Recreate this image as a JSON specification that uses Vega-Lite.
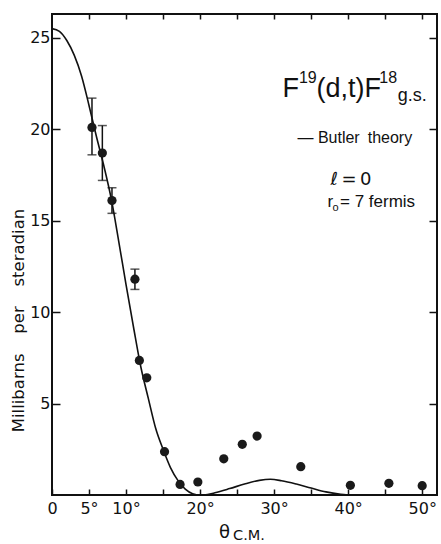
{
  "$schema": "https://vega.github.io/schema/vega-lite/v6.json",
  "width": 385,
  "height": 481,
  "autosize": {"type": "none"},
  "padding": {"left": 52, "top": 14, "right": 4, "bottom": 49},
  "background": "white",
  "config": {
    "view": {"stroke": "#111111", "strokeWidth": 2},
    "axis": {"grid": false, "domain": false, "tickColor": "#111111", "tickWidth": 1.5, "labelColor": "#111111", "titleColor": "#111111", "labelFlush": false, "labelOverlap": false}
  },
  "datasets": {
    "one": [{"k": 1}],
    "curve": [
      {"a": 0, "v": 25.5}, {"a": 1, "v": 25.35}, {"a": 2, "v": 24.85}, {"a": 3, "v": 24.05},
      {"a": 4, "v": 22.9}, {"a": 5, "v": 21.3}, {"a": 6, "v": 19.6}, {"a": 7, "v": 18.0},
      {"a": 8, "v": 16.2}, {"a": 9, "v": 13.9}, {"a": 10, "v": 11.5}, {"a": 11, "v": 9.2},
      {"a": 12, "v": 7.0}, {"a": 13, "v": 5.3}, {"a": 14, "v": 3.65}, {"a": 15, "v": 2.5},
      {"a": 16, "v": 1.5}, {"a": 17, "v": 0.8}, {"a": 18, "v": 0.32}, {"a": 19, "v": 0.07},
      {"a": 20, "v": 0}, {"a": 21, "v": 0.03}, {"a": 22, "v": 0.12}, {"a": 24, "v": 0.35},
      {"a": 26, "v": 0.6}, {"a": 28, "v": 0.8}, {"a": 29.5, "v": 0.86}, {"a": 31, "v": 0.78},
      {"a": 33, "v": 0.6}, {"a": 35, "v": 0.38}, {"a": 37, "v": 0.17}, {"a": 39, "v": 0.04},
      {"a": 40, "v": 0}
    ],
    "points": [
      {"a": 5.4, "v": 20.1}, {"a": 6.8, "v": 18.7}, {"a": 8.1, "v": 16.1}, {"a": 11.2, "v": 11.8},
      {"a": 11.8, "v": 7.36}, {"a": 12.8, "v": 6.41}, {"a": 15.2, "v": 2.37}, {"a": 17.3, "v": 0.58},
      {"a": 19.7, "v": 0.71}, {"a": 23.2, "v": 1.98}, {"a": 25.7, "v": 2.77}, {"a": 27.7, "v": 3.22},
      {"a": 33.6, "v": 1.55}, {"a": 40.3, "v": 0.53}, {"a": 45.5, "v": 0.64}, {"a": 50.0, "v": 0.51}
    ],
    "errors": [
      {"a": 5.4, "lo": 18.6, "hi": 21.7},
      {"a": 6.8, "lo": 17.2, "hi": 20.2},
      {"a": 8.1, "lo": 15.4, "hi": 16.8},
      {"a": 11.2, "lo": 11.24, "hi": 12.35}
    ]
  },
  "layer": [
    {
      "data": {"name": "curve"},
      "mark": {"type": "line", "color": "#111111", "strokeWidth": 1.6, "interpolate": "monotone"},
      "encoding": {
        "x": {"field": "a", "type": "quantitative", "scale": {"domain": [0, 52], "nice": false, "zero": false},
          "axis": {"orient": "bottom", "values": [0, 5, 10, 15, 20, 25, 30, 35, 40, 45, 50], "tickSize": -6,
            "labelExpr": "datum.value == 0 ? '0' : ((datum.value % 10 == 0 || datum.value == 5) ? datum.value + '°' : '')",
            "labelFont": "DejaVu Sans", "labelFontSize": 16, "labelPadding": 11,
            "title": "θ", "titleFont": "DejaVu Sans", "titleFontSize": 18, "titleFontWeight": "normal",
            "titleX": 172, "titleY": 42, "titleBaseline": "alphabetic", "titleAlign": "center"}},
        "y": {"field": "v", "type": "quantitative", "scale": {"domain": [0, 26.3], "nice": false, "zero": false},
          "axis": {"orient": "left", "values": [5, 10, 15, 20, 25], "tickSize": -8,
            "labelFont": "DejaVu Sans", "labelFontSize": 16, "labelPadding": 10,
            "title": "Millibarns\u2003\u2009per\u2003\u2009steradian", "titleFont": "DejaVu Sans", "titleFontSize": 16.5, "titleFontWeight": "normal",
            "titleAngle": -90, "titleX": -29, "titleY": 306, "titleBaseline": "alphabetic", "titleAlign": "center"}}
      }
    },
    {
      "data": {"name": "errors"},
      "mark": {"type": "rule", "color": "#111111", "strokeWidth": 1.5},
      "encoding": {
        "x": {"field": "a", "type": "quantitative",
          "axis": {"orient": "top", "values": [5, 10, 15, 20, 25, 30, 35, 40, 45, 50], "tickSize": -5, "labels": false, "title": null}},
        "y": {"field": "lo", "type": "quantitative",
          "axis": {"orient": "right", "values": [5, 10, 15, 20, 25], "tickSize": -8, "labels": false, "title": null}},
        "y2": {"field": "hi"}
      }
    },
    {
      "data": {"name": "errors"},
      "mark": {"type": "tick", "orient": "horizontal", "color": "#111111", "thickness": 1.5, "size": 9},
      "encoding": {
        "x": {"field": "a", "type": "quantitative", "axis": null},
        "y": {"field": "lo", "type": "quantitative", "axis": null}
      }
    },
    {
      "data": {"name": "errors"},
      "mark": {"type": "tick", "orient": "horizontal", "color": "#111111", "thickness": 1.5, "size": 9},
      "encoding": {
        "x": {"field": "a", "type": "quantitative", "axis": null},
        "y": {"field": "hi", "type": "quantitative", "axis": null}
      }
    },
    {
      "data": {"name": "points"},
      "mark": {"type": "circle", "color": "#1a1a1a", "opacity": 1, "size": 85},
      "encoding": {
        "x": {"field": "a", "type": "quantitative", "axis": null},
        "y": {"field": "v", "type": "quantitative", "axis": null}
      }
    },
    {
      "data": {"name": "one"},
      "mark": {"type": "text", "text": "F", "font": "Liberation Sans", "fontSize": 27, "align": "left", "baseline": "alphabetic", "color": "#111111"},
      "encoding": {"x": {"datum": 31.13, "type": "quantitative", "axis": null}, "y": {"datum": 21.75, "type": "quantitative", "axis": null}}
    },
    {
      "data": {"name": "one"},
      "mark": {"type": "text", "text": "19", "font": "Liberation Sans", "fontSize": 16, "align": "left", "baseline": "alphabetic", "color": "#111111"},
      "encoding": {"x": {"datum": 33.35, "type": "quantitative", "axis": null}, "y": {"datum": 22.5, "type": "quantitative", "axis": null}}
    },
    {
      "data": {"name": "one"},
      "mark": {"type": "text", "text": "(d,t)F", "font": "Liberation Sans", "fontSize": 27, "align": "left", "baseline": "alphabetic", "color": "#111111"},
      "encoding": {"x": {"datum": 35.71, "type": "quantitative", "axis": null}, "y": {"datum": 21.75, "type": "quantitative", "axis": null}}
    },
    {
      "data": {"name": "one"},
      "mark": {"type": "text", "text": "18", "font": "Liberation Sans", "fontSize": 16, "align": "left", "baseline": "alphabetic", "color": "#111111"},
      "encoding": {"x": {"datum": 44.2, "type": "quantitative", "axis": null}, "y": {"datum": 22.5, "type": "quantitative", "axis": null}}
    },
    {
      "data": {"name": "one"},
      "mark": {"type": "text", "text": "g.s.", "font": "Liberation Sans", "fontSize": 18, "align": "left", "baseline": "alphabetic", "color": "#111111"},
      "encoding": {"x": {"datum": 46.7, "type": "quantitative", "axis": null}, "y": {"datum": 21.53, "type": "quantitative", "axis": null}}
    },
    {
      "data": {"name": "one"},
      "mark": {"type": "text", "text": "— Butler\u2002theory", "font": "Liberation Sans", "fontSize": 16, "align": "left", "baseline": "alphabetic", "color": "#111111"},
      "encoding": {"x": {"datum": 33.15, "type": "quantitative", "axis": null}, "y": {"datum": 19.23, "type": "quantitative", "axis": null}}
    },
    {
      "data": {"name": "one"},
      "mark": {"type": "text", "text": "ℓ\u2009=\u20090", "font": "DejaVu Sans", "fontSize": 18, "align": "left", "baseline": "alphabetic", "color": "#111111"},
      "encoding": {"x": {"datum": 37.6, "type": "quantitative", "axis": null}, "y": {"datum": 16.94, "type": "quantitative", "axis": null}}
    },
    {
      "data": {"name": "one"},
      "mark": {"type": "text", "text": "r", "font": "Liberation Sans", "fontSize": 17, "align": "left", "baseline": "alphabetic", "color": "#111111"},
      "encoding": {"x": {"datum": 37.2, "type": "quantitative", "axis": null}, "y": {"datum": 15.74, "type": "quantitative", "axis": null}}
    },
    {
      "data": {"name": "one"},
      "mark": {"type": "text", "text": "o", "font": "Liberation Sans", "fontSize": 11, "align": "left", "baseline": "alphabetic", "color": "#111111"},
      "encoding": {"x": {"datum": 37.87, "type": "quantitative", "axis": null}, "y": {"datum": 15.52, "type": "quantitative", "axis": null}}
    },
    {
      "data": {"name": "one"},
      "mark": {"type": "text", "text": "= 7 fermis", "font": "Liberation Sans", "fontSize": 17, "align": "left", "baseline": "alphabetic", "color": "#111111"},
      "encoding": {"x": {"datum": 38.9, "type": "quantitative", "axis": null}, "y": {"datum": 15.74, "type": "quantitative", "axis": null}}
    },
    {
      "data": {"name": "one"},
      "mark": {"type": "text", "text": "C.M.", "font": "DejaVu Sans", "fontSize": 14.5, "align": "left", "baseline": "alphabetic", "color": "#111111"},
      "encoding": {"x": {"datum": 24.45, "type": "quantitative", "axis": null}, "y": {"datum": -2.46, "type": "quantitative", "axis": null}}
    }
  ]
}
